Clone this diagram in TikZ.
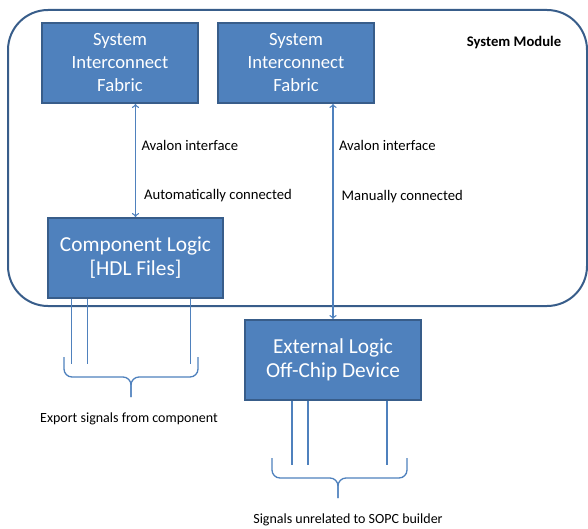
\documentclass[tikz,border=0pt]{standalone}
\usepackage{fontspec}
\setmainfont{Carlito}
\usetikzlibrary{positioning}
\usetikzlibrary{calc}
\definecolor{boxblue}{HTML}{4F81BD}
\definecolor{edgeblue}{HTML}{385D8A}
\tikzset{block/.style={draw=edgeblue,fill=boxblue,line width=1.5pt,text=white,align=center,font=\fontsize{14}{17.25}\selectfont,minimum height=60pt,inner sep=0pt},
bigblock/.style={block,font=\fontsize{16}{18}\selectfont},
note/.style={text=black,font=\fontsize{10.5}{12}\selectfont,inner sep=2pt},
link/.style={boxblue,line width=1pt,<->},
sig/.style={boxblue,line width=1pt},
grp/.style={boxblue,line width=1pt,rounded corners=6pt}}

\begin{document}
\begin{tikzpicture}[x=0.75pt,y=-0.75pt]
\useasboundingbox (0,0) rectangle (588,528);
% system module
\draw[edgeblue,line width=1.5pt,rounded corners=30pt] (8,10) rectangle (587,306);
\node[font=\bfseries\fontsize{11}{13}\selectfont] (sysmod) at (514,43) {System Module};
\node[block,minimum width=117pt] (sif1) at (120,63) {System\\Interconnect\\Fabric};
\node[block,minimum width=117pt] (sif2) at (296,63) {System\\Interconnect\\Fabric};
\node[bigblock,minimum width=131pt] (comp) at (135.5,258) {Component Logic\\{[HDL Files]}};
\node[bigblock,minimum width=132pt] (ext) at (333,360) {External Logic\\Off-Chip Device};
% avalon links
\draw[link] (sif1.south -| comp.north) -- (comp.north)
  node[note,font=\fontsize{11}{13}\selectfont,pos=0.365,right=2pt] (av1) {Avalon interface}
  node[note,font=\fontsize{11}{13}\selectfont,pos=0.81,right=4pt] (auto) {Automatically connected};
\draw[link] (sif2.south -| ext.north) -- (ext.north)
  node[note,font=\fontsize{11}{13}\selectfont,pos=0.194,right=2pt] (av2) {Avalon interface}
  node[note,font=\fontsize{11}{13}\selectfont,pos=0.43,right=4pt] (man) {Manually connected};
% exported signals
\foreach \dx in {24,40,143}
  \draw[sig] ($(comp.south west)+(\dx,0)$) -- ++(0,65);
\draw[grp] (64,357) -- (64,377) -- (131,377) -- (131,397);
\draw[grp] (198,357) -- (198,377) -- (131,377) -- (131,397);
\node[note] (exptxt) at (129,419) {Export signals from component};
% signals of the external device
\foreach \dx in {48,64,143}
  \draw[sig] ($(ext.south west)+(\dx,0)$) -- ++(0,64);
\draw[grp] (272,458) -- (272,478) -- (338,478) -- (338,498);
\draw[grp] (407,458) -- (407,478) -- (338,478) -- (338,498);
\node[note] (sopctxt) at (348,520) {Signals unrelated to SOPC builder};
\end{tikzpicture}
\end{document}
